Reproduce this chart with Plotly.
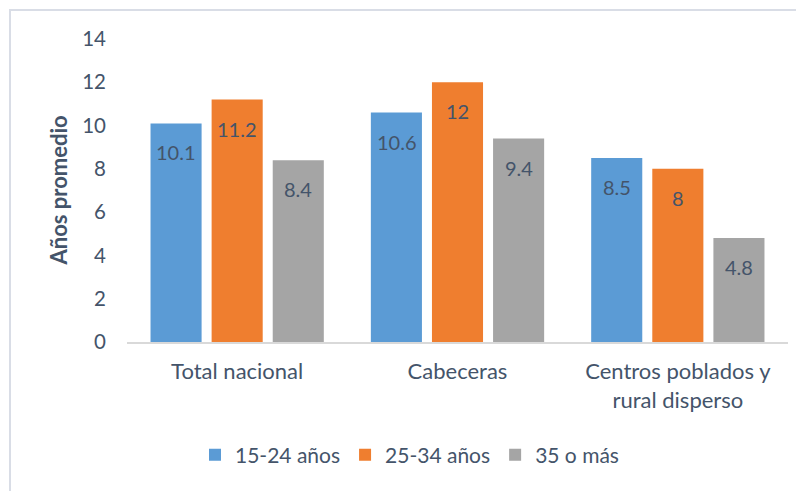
import plotly.graph_objects as go

categories = ["Total nacional", "Cabeceras", "Centros poblados y<br>rural disperso"]
series_names = ["15-24 años", "25-34 años", "35 o más"]
v_15_24 = [10.1, 10.6, 8.5]
v_25_34 = [11.2, 12, 8]
v_35_mas = [8.4, 9.4, 4.8]
y_ticks = [0, 2, 4, 6, 8, 10, 12, 14]

colors = ["#5B9BD5", "#EF7E2F", "#A5A5A5"]
series_vals = [v_15_24, v_25_34, v_35_mas]
txt = "#44546A"
FONT = "Lato, 'Open Sans', sans-serif"

# page offset of 8px: plot area at figure x 119..780, y 31..334
L, T, PW, PH = 119, 31, 661, 303

fig = go.Figure()
for name, vals, col in zip(series_names, series_vals, colors):
    fig.add_trace(go.Bar(
        x=categories, y=vals, name=name,
        marker=dict(color=col, line=dict(width=0)),
    ))

annotations = []
slot = 61
for i, vals in enumerate(series_vals):
    for c, v in zip(categories, vals):
        annotations.append(dict(
            x=c, y=v, xref="x", yref="y", text=f"{v:g}", showarrow=False,
            xshift=(i - 1) * slot, yshift=-29, yanchor="middle",
            font=dict(family=FONT, size=20, color=txt),
        ))
annotations.append(dict(
    x=0, y=0.5, xref="paper", yref="paper", text="<b>Años promedio</b>",
    showarrow=False, textangle=-90, xanchor="center", yanchor="middle",
    xshift=-69, font=dict(family=FONT, size=22, color=txt),
))

fig.update_layout(
    width=804, height=491,
    margin=dict(l=L, r=804 - L - PW, t=T, b=491 - T - PH),
    paper_bgcolor="white", plot_bgcolor="white",
    barmode="group", bargap=0.168, bargroupgap=0.164,
    font=dict(family=FONT, size=20, color=txt),
    showlegend=True,
    legend=dict(orientation="h", x=(195 - 8 - L) / PW, xanchor="left",
                y=-113 / PH, yanchor="middle",
                font=dict(family=FONT, size=21, color=txt), itemwidth=30,
                traceorder="normal"),
    annotations=annotations,
    shapes=[dict(type="rect", xref="paper", yref="paper",
                 x0=(2 - L) / PW, x1=1.3, y0=-0.7, y1=1 + (T - 2) / PH,
                 line=dict(color="#D9DDE6", width=2), layer="below")],
)
fig.update_xaxes(showgrid=False, showline=True, linecolor="#D9D9D9", linewidth=1.5,
                 ticks="", tickfont=dict(family=FONT, size=22, color=txt), ticklabelstandoff=9)
fig.update_yaxes(range=[0, 14], tickvals=y_ticks, showgrid=False, showline=False,
                 zeroline=False, ticks="", tickfont=dict(family=FONT, size=20.5, color=txt),
                 ticklabelstandoff=20)

fig.write_html("out.html")
